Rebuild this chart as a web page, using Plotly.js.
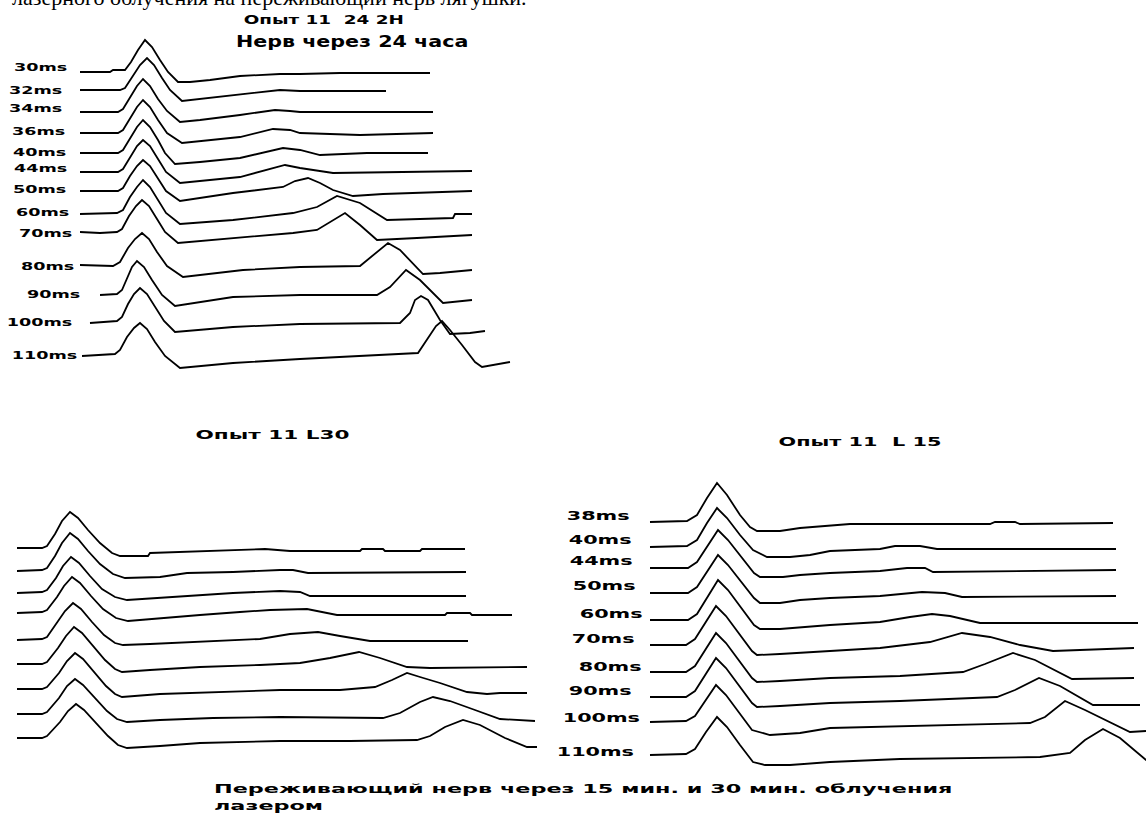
<!DOCTYPE html>
<html>
<head>
<meta charset="utf-8">
<script src="https://cdn.plot.ly/plotly-3.0.1.min.js"></script>
<style>
  html, body { margin: 0; padding: 0; background: #ffffff; }
  #chart { width: 1146px; height: 819px; }
</style>
</head>
<body>
<div id="chart"></div>
<script>
// ---------------- DATA ----------------
// time in samples, amplitude in arbitrary units (0 = trace baseline, positive = up)

// Panel 1: "Нерв через 24 часа"
const topLabels = ['30ms','32ms','34ms','36ms','40ms','44ms','50ms','60ms','70ms','80ms','90ms','100ms','110ms'];
const top30_t = [80,110,113,125,131,138,145,152,160,168,178,190,210,240,280,300,340,430];
const top30_v = [0,0,2,2,10,22,32,25,12,0,-10,-10,-8,-4,-2,-2,-1,-1];
const top32_t = [80,120,125,133,140,147,154,162,170,182,200,240,280,300,386];
const top32_v = [0,0,2,14,25,32,25,12,0,-11,-9,-4,0,-1,-1];
const top34_t = [80,118,123,130,137,143,150,158,167,180,200,240,275,290,300,433];
const top34_v = [0,0,3,15,26,33,26,13,1,-10,-8,-3,2,1,0,0];
const top36_t = [80,118,123,130,137,143,150,158,167,182,200,240,273,290,300,360,433];
const top36_v = [0,0,3,15,26,33,26,13,0,-10,-8,-4,4,3,0,-2,0];
const top40_t = [80,118,123,130,137,143,150,158,165,175,200,240,283,300,320,367,428];
const top40_v = [0,0,3,15,26,33,26,13,0,-11,-9,-5,5,3,-2,0,0];
const top44_t = [80,118,123,130,137,143,150,158,166,180,200,240,285,300,333,400,472];
const top44_v = [0,0,3,15,26,32,26,13,0,-11,-9,-5,7,4,-1,0,1];
const top50_t = [80,118,123,130,137,143,150,158,166,180,187,233,283,295,308,320,333,353,383,472];
const top50_v = [0,0,3,15,25,31,25,12,0,-10,-9,-2,4,10,13,8,1,-5,-3,0];
const top60_t = [80,117,123,130,137,143,150,158,166,180,233,293,317,337,360,387,453,455,472];
const top60_v = [0,1,4,17,27,34,27,14,1,-10,-6,1,7,18,11,-6,-4,0,0];
const top70_t = [80,100,117,122,129,136,142,149,157,165,178,233,293,317,330,345,360,377,417,472];
const top70_v = [0,-1,0,3,16,26,32,26,13,0,-11,-6,-1,2,10,19,7,-8,-6,-3];
const top80_t = [80,113,120,128,135,142,149,157,167,183,243,300,360,372,388,400,410,423,440,472];
const top80_v = [1,0,4,18,27,33,27,14,0,-11,-4,-1,0,10,23,16,6,-8,-7,-4];
const top90_t = [100,117,122,127,132,137,144,152,162,175,233,300,377,390,406,420,433,443,472];
const top90_v = [0,1,5,17,28,34,28,15,0,-11,-2,0,0,8,25,15,2,-8,-5];
const top100_t = [90,117,122,128,134,140,147,155,164,175,233,300,400,410,415,421,428,440,450,470,485];
const top100_v = [0,2,6,19,29,35,29,16,2,-9,-4,-1,0,10,23,27,23,3,-11,-10,-8];
const top110_t = [82,115,120,127,134,140,147,155,165,180,233,300,418,427,436,442,450,462,475,482,495,510];
const top110_v = [0,2,6,19,28,33,27,14,0,-12,-7,-3,3,16,30,35,26,11,-6,-11,-9,-6];

// Panel 2: "Опыт 11 L30" (unlabelled traces, top to bottom)
const l30_1_t = [17,42,47,55,62,70,78,88,100,112,120,148,150,175,213,265,290,360,362,383,385,420,422,465];
const l30_1_v = [0,0,2,14,27,36,30,18,5,-5,-8,-8,-5,-4,-3,-1,-3,-3,-1,-1,-3,-3,-1,-1];
const l30_2_t = [17,42,47,55,62,70,78,88,100,113,125,160,187,233,280,293,308,466];
const l30_2_v = [0,1,3,15,28,38,32,20,7,-3,-7,-6,-2,-1,1,1,-2,-1];
const l30_3_t = [17,42,47,56,63,71,79,90,102,115,127,143,177,233,280,300,310,466];
const l30_3_v = [0,1,3,15,27,36,30,17,4,-4,-7,-6,-4,0,2,1,-3,-3];
const l30_4_t = [17,42,47,57,64,72,80,91,103,116,128,160,200,240,270,307,337,445,447,470,472,512];
const l30_4_v = [0,1,3,16,27,36,30,17,4,-5,-8,-5,-2,1,3,4,-2,-2,0,0,-2,-2];
const l30_5_t = [17,42,47,57,65,73,81,92,104,115,123,150,200,240,260,290,318,340,370,468];
const l30_5_v = [-1,0,2,16,28,36,30,17,4,-4,-6,-5,-3,-1,0,5,7,3,-2,-2];
const l30_6_t = [17,42,47,58,66,74,82,93,105,115,122,150,200,260,300,330,359,380,407,430,527];
const l30_6_v = [0,0,2,16,28,37,31,18,4,-5,-8,-6,-3,-1,1,6,12,6,-3,-4,-3];
const l30_7_t = [17,42,47,59,67,75,83,94,106,115,122,160,220,280,340,375,392,407,420,440,467,487,500,527];
const l30_7_v = [0,0,2,16,28,36,30,17,3,-5,-8,-5,-3,-1,-1,2,9,16,12,6,-3,-5,-4,-4];
const l30_8_t = [17,42,47,59,67,75,83,95,107,117,127,160,213,280,383,400,420,433,450,475,500,535];
const l30_8_v = [0,0,2,16,28,35,29,16,3,-5,-8,-6,-4,-3,-4,1,12,17,13,4,-5,-7];
const l30_9_t = [17,42,47,60,68,76,84,96,108,118,127,160,200,280,350,417,430,445,463,480,505,527,537];
const l30_9_v = [0,0,2,16,27,34,28,15,2,-7,-10,-8,-5,-3,-3,-2,2,11,18,13,0,-9,-9];

// Panel 3: "Опыт 11 L 15"
const l15Labels = ['38ms','40ms','44ms','50ms','60ms','70ms','80ms','90ms','100ms','110ms'];
const l15_38_t = [110,147,157,167,177,187,200,210,217,240,260,310,450,455,475,480,573];
const l15_38_v = [0,1,7,24,39,27,7,-5,-9,-9,-6,-2,-2,0,0,-2,-1];
const l15_40_t = [110,147,157,167,177,187,200,213,227,250,270,290,340,355,380,397,576];
const l15_40_v = [0,1,7,24,39,29,12,-3,-10,-10,-8,-4,-2,1,1,-2,-2];
const l15_44_t = [110,148,157,168,178,188,201,214,220,243,260,290,340,367,385,393,576];
const l15_44_v = [0,0,6,23,38,28,11,-5,-9,-9,-7,-5,-3,0,0,-4,-2];
const l15_50_t = [110,148,157,168,178,188,201,214,220,240,260,290,340,382,405,422,576];
const l15_50_v = [0,0,6,23,38,28,11,-5,-10,-10,-7,-5,-3,1,0,-4,-3];
const l15_60_t = [110,148,157,168,178,188,201,214,220,240,290,340,370,392,410,440,598];
const l15_60_v = [0,0,6,24,40,30,12,-5,-9,-9,-5,-2,3,6,4,-3,-3];
const l15_70_t = [110,146,155,166,176,186,199,212,217,240,290,340,390,422,450,480,513,594];
const l15_70_v = [0,0,6,23,39,29,11,-6,-10,-9,-6,-3,3,12,8,0,-6,-3];
const l15_80_t = [110,146,155,166,176,186,199,212,217,240,290,360,423,445,473,495,532,594];
const l15_80_v = [0,0,6,23,39,29,11,-6,-10,-9,-6,-4,0,8,19,12,-7,-6];
const l15_90_t = [110,146,155,166,176,186,199,212,217,240,290,360,457,475,499,520,553,600];
const l15_90_v = [0,0,6,23,39,29,11,-6,-10,-9,-6,-4,0,7,19,11,-8,-8];
const l15_100_t = [110,146,155,166,176,186,199,212,230,260,290,360,490,505,525,545,590,606];
const l15_100_v = [0,1,6,22,37,27,9,-8,-13,-11,-6,-4,-1,5,21,12,-10,-9];
const l15_110_t = [110,146,155,166,177,187,200,213,225,250,290,360,500,530,545,563,580,606,620];
const l15_110_v = [0,1,6,23,38,28,10,-7,-10,-10,-7,-4,-2,2,15,26,17,-5,-13];

// ---------------- LAYOUT CONSTANTS (positions, not data) ----------------
const W = 1146, H = 819;
const topRowPos = [72,90,112,133,153,172,191,214,232,266,295,323,356];
const l30RowPos = [548,571,593,613,639,664,689,714,738];
const l15RowPos = [522,547,568,593,620,645,672,697,722,755];

const topSeries = [[top30_t,top30_v],[top32_t,top32_v],[top34_t,top34_v],[top36_t,top36_v],[top40_t,top40_v],
  [top44_t,top44_v],[top50_t,top50_v],[top60_t,top60_v],[top70_t,top70_v],[top80_t,top80_v],
  [top90_t,top90_v],[top100_t,top100_v],[top110_t,top110_v]];
const l30Series = [[l30_1_t,l30_1_v],[l30_2_t,l30_2_v],[l30_3_t,l30_3_v],[l30_4_t,l30_4_v],[l30_5_t,l30_5_v],
  [l30_6_t,l30_6_v],[l30_7_t,l30_7_v],[l30_8_t,l30_8_v],[l30_9_t,l30_9_v]];
const l15Series = [[l15_38_t,l15_38_v],[l15_40_t,l15_40_v],[l15_44_t,l15_44_v],[l15_50_t,l15_50_v],[l15_60_t,l15_60_v],
  [l15_70_t,l15_70_v],[l15_80_t,l15_80_v],[l15_90_t,l15_90_v],[l15_100_t,l15_100_v],[l15_110_t,l15_110_v]];

const lineStyle = {color: '#000000', width: 1.8};
const traces = [];
function addPanel(series, rows, xa, ya) {
  series.forEach((s, i) => {
    traces.push({
      type: 'scatter', mode: 'lines', x: s[0], y: s[1].map(a => a - rows[i]),
      xaxis: xa, yaxis: ya, line: lineStyle, hoverinfo: 'skip'
    });
  });
}
addPanel(topSeries, topRowPos, 'x', 'y');
addPanel(l30Series, l30RowPos, 'x2', 'y2');
addPanel(l15Series, l15RowPos, 'x3', 'y3');

// annotations (page pixel positions converted to paper)
const annotations = [];
const stretch = [];
function px(x) { return x / W; }
function py(y) { return 1 - y / H; }
function addText(text, x, y, size, k, anchor, family, weight, extra) {
  annotations.push(Object.assign({
    text: text, xref: 'paper', yref: 'paper', x: px(x), y: py(y),
    xanchor: anchor, yanchor: 'middle', showarrow: false, borderpad: 0,
    font: {family: family || 'DejaVu Sans', size: size, color: '#000000', weight: weight || 700}
  }, extra || {}));
  stretch.push({k: k, origin: anchor === 'left' ? 'left center' : (anchor === 'right' ? 'right center' : 'center')});
}

// top cut-off caption line (continues above the page edge)
addText('лазерного облучения на переживающий нерв лягушки.', 528, -3, 22, 1.0, 'right', 'Liberation Serif', 400);
// titles
addText('Опыт 11 \u00a024 2Н', 324, 19, 13, 1.41, 'center');
addText('Нерв через 24 часа', 352, 41, 16, 1.29, 'center');
addText('Опыт 11 L30', 272, 434, 13, 1.66, 'center');
addText('Опыт 11 \u00a0L 15', 860, 441, 13, 1.6, 'center');

const topLabelX = [41,36,36,39,40,41,40,43,46,48,54,39,44];
const topLabelY = [67,90,109,131,152,169,189,213,233,267,294,323,355];
topLabels.forEach((t, i) => addText(t, topLabelX[i], topLabelY[i], 11, 1.6, 'center'));

const l15LabelX = [598,600,601,604,611,603,610,600,601,595];
const l15LabelY = [516,540,561,586,614,639,667,691,718,752];
l15Labels.forEach((t, i) => addText(t, l15LabelX[i], l15LabelY[i], 12, 1.73, 'center'));

addText('Переживающий нерв через 15 мин. и 30 мин. облучения<br>лазером', 213, 797, 13, 1.72, 'left',
        null, null, {align: 'left'});

const hiddenAxis = {visible: false, showgrid: false, zeroline: false, fixedrange: true};
const layout = {
  width: W, height: H,
  margin: {l: 0, r: 0, t: 0, b: 0, pad: 0},
  paper_bgcolor: '#ffffff', plot_bgcolor: 'rgba(0,0,0,0)',
  showlegend: false,
  xaxis:  Object.assign({}, hiddenAxis, {domain: [0, 520 / W], range: [0, 520], anchor: 'y'}),
  yaxis:  Object.assign({}, hiddenAxis, {domain: [py(380), py(30)], range: [-380, -30], anchor: 'x'}),
  xaxis2: Object.assign({}, hiddenAxis, {domain: [0, 545 / W], range: [0, 545], anchor: 'y2'}),
  yaxis2: Object.assign({}, hiddenAxis, {domain: [py(770), py(480)], range: [-770, -480], anchor: 'x2'}),
  xaxis3: Object.assign({}, hiddenAxis, {domain: [540 / W, 1], range: [0, 606], anchor: 'y3'}),
  yaxis3: Object.assign({}, hiddenAxis, {domain: [py(785), py(460)], range: [-785, -460], anchor: 'x3'}),
  annotations: annotations
};

Plotly.newPlot('chart', traces, layout, {staticPlot: true, displayModeBar: false}).then(gd => {
  gd.querySelectorAll('g.annotation').forEach(g => {
    const i = +g.getAttribute('data-index');
    const s = stretch[i];
    const t = g.querySelector('text.annotation-text');
    if (!s || !t) return;
    t.style.transformBox = 'fill-box';
    t.style.transformOrigin = s.origin;
    t.style.transform = 'scaleX(' + s.k + ')';
  });
});
</script>
</body>
</html>
